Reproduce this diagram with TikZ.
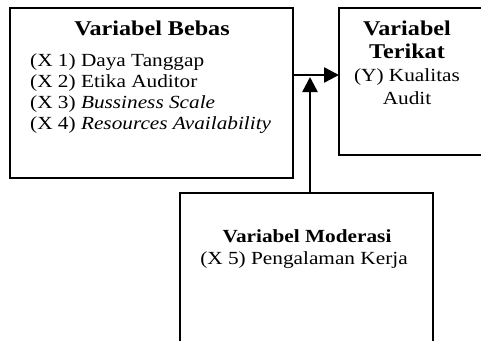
\documentclass[tikz,border=0pt]{standalone}
\usepackage{fontspec}
\setmainfont{Liberation Serif}
\usetikzlibrary{arrows.meta,positioning}
\tikzset{
  varbox/.style={draw,line width=1.9pt,inner sep=0pt,outer sep=0pt},
  vartext/.style={inner sep=0pt,xscale=1.15,transform shape,
    font=\fontsize{18.5}{21}\selectfont},
  vartitle/.style={vartext,font=\fontsize{21}{23}\selectfont\bfseries},
  varsub/.style={vartext,font=\fontsize{18.5}{21}\selectfont\bfseries},
  link/.style={line width=2.5pt,-{Triangle[length=15pt,width=15pt]}}
}

\begin{document}
\begin{tikzpicture}[x=1pt,y=-1pt]
  \useasboundingbox (0,0) rectangle (481,340);
  \clip (0,0) rectangle (481,340);
  % boxes
  \node[varbox,anchor=north west,minimum width=283pt,minimum height=170pt] (bebas) at (10,8) {};
  \node[varbox,anchor=north west,minimum width=160pt,minimum height=147pt] (terikat) at (339,8) {};
  \node[varbox,anchor=north west,minimum width=253pt,minimum height=170pt] (moderasi) at (180,193) {};
  % variabel bebas
  \node[vartitle,anchor=mid] (bebastitle) at (152,33) {Variabel Bebas};
  \foreach \i/\t in {1/Daya Tanggap,2/Etika Auditor,3/\textit{Bussiness Scale},4/\textit{Resources Availability}}
    \node[vartext,anchor=mid west] (x\i) at (30,{43+21*\i}) {(X \i) \t};
  % variabel terikat
  \node[vartitle,anchor=mid] (terikat1) at (407,33) {Variabel};
  \node[vartitle,anchor=mid] (terikat2) at (407,56) {Terikat};
  \node[vartext,anchor=mid] (y1) at (407,79) {(Y) Kualitas};
  \node[vartext,anchor=mid] (y2) at (407,102) {Audit};
  % variabel moderasi
  \node[varsub,anchor=mid] (moderasititle) at (307,240) {Variabel Moderasi};
  \node[vartext,anchor=mid] (x5) at (304,262) {(X 5) Pengalaman Kerja};
  % arrows
  \coordinate (join) at (310,75);
  \draw[link] (bebas.east |- join) -- (terikat.west |- join);
  \draw[link] (moderasi.north -| join) -- ([yshift=-2pt]join);
\end{tikzpicture}
\end{document}
